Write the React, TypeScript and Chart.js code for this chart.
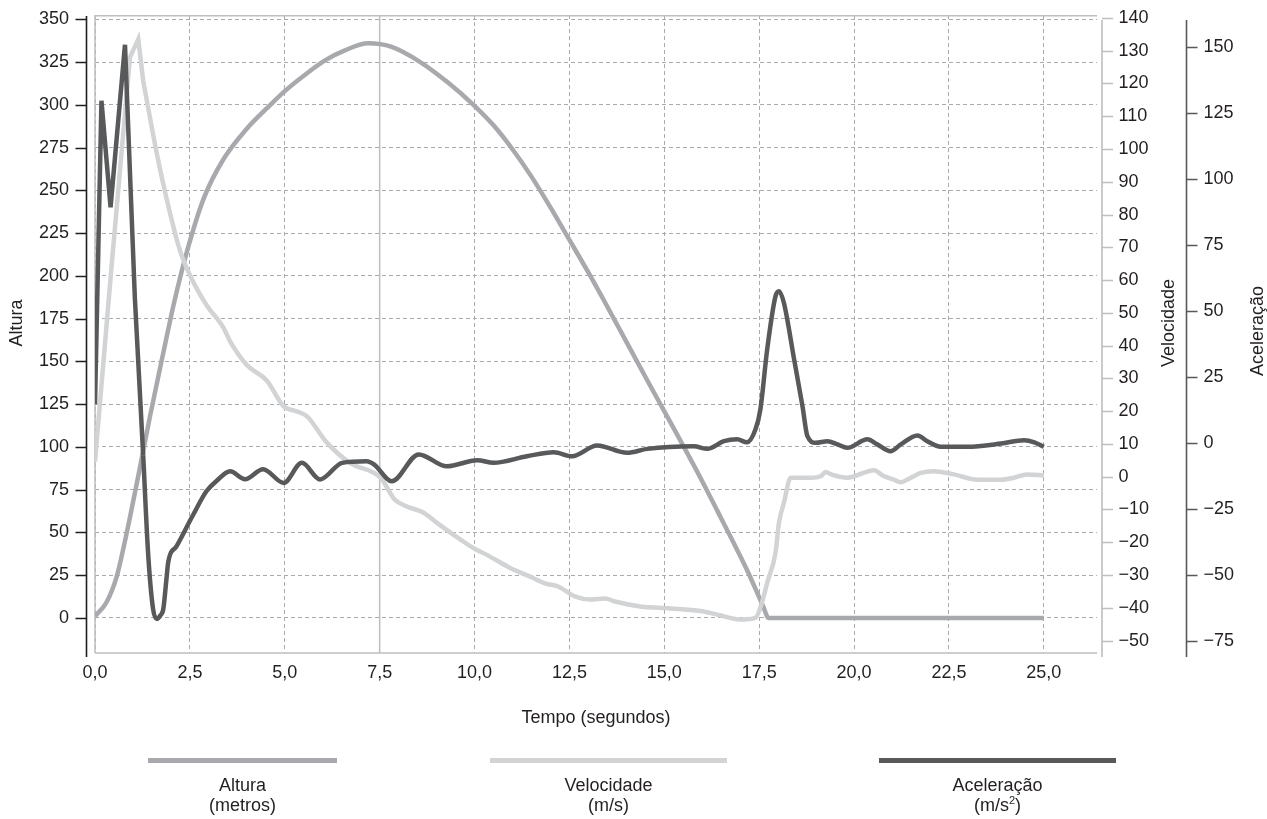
import React, { useEffect, useRef } from 'react';
import { Chart, registerables } from 'chart.js';

Chart.register(...registerables);

// ---------- tick labels ----------
const tempoTicks = [0, 2.5, 5, 7.5, 10, 12.5, 15, 17.5, 20, 22.5, 25];
const alturaTicks = [0, 25, 50, 75, 100, 125, 150, 175, 200, 225, 250, 275, 300, 325, 350];
const velocidadeTicks = [-50, -40, -30, -20, -10, 0, 10, 20, 30, 40, 50, 60, 70, 80, 90, 100, 110, 120, 130, 140];
const aceleracaoTicks = [-75, -50, -25, 0, 25, 50, 75, 100, 125, 150];
const marcasSolidas = [0, 7.5];

// ---------- series ----------
const alturaTempo = [0, 0.3, 0.57, 0.79, 1.14, 1.45, 1.8, 2.07, 2.42, 2.86, 3.38, 4.0, 4.53, 5.0, 5.5, 6.06, 6.6, 7.2, 7.8, 8.57, 9.3, 9.97, 10.5, 11.0, 11.5, 12.0, 12.5, 13.05, 13.4, 14.5, 15.95, 16.48, 17.2, 17.6, 17.75, 20, 22.5, 25];
const alturaValores = [1, 9, 24, 45, 83, 118, 155, 183, 214, 245, 268, 286, 298, 308, 317, 326, 332, 336, 334, 325, 313, 300, 288, 274, 258, 240, 221, 200, 186, 141, 82, 59, 27, 7, 0, 0, 0, 0];

const velTempoInicio = [0, 0.42, 0.92, 1.14, 1.27];
const velInicio = [4.6, 62, 128, 133.5, 120.8];
const velTempo = [1.27, 1.62, 1.89, 2.24, 2.59, 2.95, 3.38, 3.56, 4.0, 4.53, 4.97, 5.3, 5.58, 6.11, 6.72, 7.52, 7.9, 8.2, 8.66, 9.0, 9.63, 10.0, 10.3, 10.9, 11.5, 11.87, 12.2, 12.66, 13.05, 13.45, 13.7, 14.37, 15.16, 15.95, 16.4, 17.0, 17.4, 17.57, 17.71, 17.93, 18.02, 18.15, 18.33, 18.86, 19.12, 19.25, 19.4, 19.82, 20.53, 20.75, 21.05, 21.23, 21.4, 21.76, 22.1, 22.63, 23.25, 23.87, 24.21, 24.56, 25.0];
const velValores = [120.8, 99.1, 84.7, 69, 59.4, 52.2, 45.6, 41.3, 34.1, 29.3, 21.5, 20, 18.5, 10.4, 4.2, -0.3, -7, -9, -11, -14, -19.2, -22, -23.7, -27.6, -30.7, -32.6, -33.5, -36.6, -37.5, -37.2, -38.1, -39.6, -40.2, -41, -42.1, -43.6, -43.1, -38.5, -32.4, -23.2, -14.1, -8, -0.3, -0.3, 0.15, 1.4, 0.7, -0.3, 2.0, 0.4, -0.9, -1.7, -0.9, 1.2, 1.7, 0.7, -0.9, -0.9, -0.3, 0.7, 0.4];

const acelTempoInicio = [0, 0.17, 0.41, 0.79, 1.05, 1.27];
const acelInicio = [14.6, 129.7, 89.3, 150.9, 55, -4.8];
const acelTempo = [1.27, 1.40, 1.53, 1.63, 1.72, 1.80, 1.88, 1.93, 2.15, 2.59, 2.94, 3.2, 3.56, 3.95, 4.43, 4.97, 5.45, 5.93, 6.51, 7.16, 7.35, 7.82, 8.53, 9.27, 10.07, 10.5, 11.38, 12.09, 12.57, 13.23, 14.02, 14.55, 15.78, 16.13, 16.57, 16.92, 17.18, 17.4, 17.53, 17.71, 17.93, 18.02, 18.15, 18.42, 18.64, 18.77, 18.99, 19.3, 19.56, 19.82, 20.35, 20.61, 20.96, 21.23, 21.67, 21.93, 22.28, 22.98, 23.87, 24.48, 24.75, 25.0];
const acelValores = [-4.8, -42, -63, -66.8, -65.5, -63, -52, -45.2, -39.2, -27.2, -18.3, -14.5, -10.8, -13.8, -10, -15.2, -7.6, -13.9, -7.6, -7.0, -8.2, -14.6, -4.4, -8.9, -6.6, -7.6, -5.1, -3.6, -5.1, -1.0, -3.8, -2.3, -1.3, -2.3, 0.6, 1.3, 0.2, 5, 12.6, 35.4, 55.6, 57.5, 53.1, 31.6, 13.9, 2.5, 0, 0.6, -0.6, -1.9, 1.3, -0.6, -3.2, -0.6, 2.8, 0.6, -1.5, -1.5, -0.3, 1.0, 0.2, -1.5];

// ---------- styles ----------
const COR_ALTURA = '#a7a9ac';
const COR_VEL = '#d1d3d4';
const COR_ACEL = '#58595b';
const COR_TEXTO = '#231f20';
const COR_GRADE = '#a9abae';
const COR_MOLDURA = '#bcbec0';
const FONTE = "'Liberation Sans', Arial, Helvetica, sans-serif";
const TAM = 18;
const INVISIVEL = 'rgba(0,0,0,0)';

const pts = (xs: number[], ys: number[]) => xs.map((x, i) => ({ x, y: ys[i] }));
const fmtNeg = (v: number) => (v < 0 ? '\u2212' + Math.abs(v) : String(v));

const decorPlugin = {
  id: 'decor',
  beforeDatasetsDraw(chart: any) {
    const { ctx, chartArea: ca, scales } = chart;
    ctx.save();
    ctx.strokeStyle = COR_MOLDURA;
    ctx.lineWidth = 1.5;
    ctx.beginPath();
    ctx.moveTo(ca.left, ca.top + 0.75);
    ctx.lineTo(ca.right, ca.top + 0.75);
    ctx.moveTo(ca.left, ca.bottom);
    ctx.lineTo(ca.right, ca.bottom);
    for (const v of marcasSolidas) {
      const px = scales.x.getPixelForValue(v);
      ctx.moveTo(px, ca.top);
      ctx.lineTo(px, ca.bottom);
    }
    ctx.stroke();
    ctx.restore();
  },
  afterDraw(chart: any) {
    const { ctx, chartArea: ca, scales } = chart;
    ctx.save();
    const axis = (scale: any, ticks: number[], x: number, dir: number, color: string, top: number) => {
      ctx.strokeStyle = color;
      ctx.lineWidth = 1.6;
      ctx.beginPath();
      ctx.moveTo(x, top);
      ctx.lineTo(x, ca.bottom + 4);
      for (const v of ticks) {
        const y = Math.round(scale.getPixelForValue(v)) + 0.5;
        ctx.moveTo(x, y);
        ctx.lineTo(x + dir * 11, y);
      }
      ctx.stroke();
    };
    axis(scales.y, alturaTicks, ca.left - 8.5, -1, COR_TEXTO, ca.top + 1);
    axis(scales.yVel, velocidadeTicks, ca.right + 5, 1, COR_MOLDURA, ca.top + 5);
    axis(scales.yAcel, aceleracaoTicks, ca.right + 89.5, 1, COR_ACEL, ca.top + 5);

    ctx.fillStyle = COR_TEXTO;
    ctx.font = `${TAM}px ${FONTE}`;
    ctx.textAlign = 'center';
    ctx.textBaseline = 'middle';
    const vtitle = (text: string, x: number, y: number) => {
      ctx.save();
      ctx.translate(x, y);
      ctx.rotate(-Math.PI / 2);
      ctx.fillText(text, 0, 0);
      ctx.restore();
    };
    vtitle('Altura', 17, 323);
    vtitle('Velocidade', ca.right + 72, 323);
    vtitle('Aceleração', ca.right + 161, 331);
    ctx.fillText('Tempo (segundos)', (ca.left + ca.right) / 2, 718);
    ctx.restore();
  },
};

export default function App() {
  const ref = useRef<HTMLCanvasElement | null>(null);

  useEffect(() => {
    if (!ref.current) return;
    Chart.defaults.font.family = FONTE;
    Chart.defaults.font.size = TAM;
    Chart.defaults.color = COR_TEXTO;

    const linha = (data: any[], color: string, axis: string, smooth: boolean, order: number) => ({
      data,
      borderColor: color,
      backgroundColor: color,
      borderWidth: 4.5,
      pointRadius: 0,
      pointHoverRadius: 0,
      fill: false,
      yAxisID: axis,
      tension: 0,
      cubicInterpolationMode: smooth ? 'monotone' : 'default',
      order,
    });

    const chart = new Chart(ref.current, {
      type: 'line',
      data: {
        datasets: [
          linha(pts(acelTempoInicio, acelInicio), COR_ACEL, 'yAcel', false, 1),
          linha(pts(acelTempo, acelValores), COR_ACEL, 'yAcel', true, 1),
          linha(pts(velTempoInicio, velInicio), COR_VEL, 'yVel', false, 2),
          linha(pts(velTempo, velValores), COR_VEL, 'yVel', true, 2),
          linha(pts(alturaTempo, alturaValores), COR_ALTURA, 'y', true, 3),
        ] as any,
      },
      options: {
        responsive: false,
        animation: false,
        devicePixelRatio: 1,
        layout: { padding: { top: 15, left: 0, right: 0, bottom: 0 } },
        plugins: { legend: { display: false }, tooltip: { enabled: false } },
        scales: {
          x: {
            type: 'linear',
            position: 'bottom',
            min: 0,
            max: 26.4,
            afterBuildTicks: (s: any) => { s.ticks = tempoTicks.map((value) => ({ value })); },
            afterFit: (s: any) => { s.height = 166; },
            grid: { display: true, drawTicks: false, color: COR_GRADE, lineWidth: 1 },
            border: { display: false, dash: [4, 3] },
            ticks: {
              padding: 9,
              maxRotation: 0,
              autoSkip: false,
              callback: (v: any) => Number(v).toFixed(1).replace('.', ','),
            },
          },
          y: {
            type: 'linear',
            position: 'left',
            min: -20.5,
            max: 352.5,
            afterBuildTicks: (s: any) => { s.ticks = alturaTicks.map((value) => ({ value })); },
            afterFit: (s: any) => { s.width = 95; },
            grid: { display: true, drawTicks: true, tickLength: 26, tickColor: INVISIVEL, color: COR_GRADE, lineWidth: 1 },
            border: { display: false, dash: [4, 3] },
            ticks: { padding: 0, autoSkip: false, callback: (v: any) => String(v) },
          },
          yVel: {
            type: 'linear',
            position: 'right',
            min: -53.8,
            max: 140.9,
            afterBuildTicks: (s: any) => { s.ticks = velocidadeTicks.map((value) => ({ value })); },
            afterFit: (s: any) => { s.width = 83; },
            grid: { display: false, drawOnChartArea: false, drawTicks: true, tickLength: 21.5, tickColor: INVISIVEL },
            border: { display: false },
            ticks: { padding: 0, autoSkip: false, callback: (v: any) => fmtNeg(Number(v)) },
          },
          yAcel: {
            type: 'linear',
            position: 'right',
            min: -79.7,
            max: 162.2,
            afterBuildTicks: (s: any) => { s.ticks = aceleracaoTicks.map((value) => ({ value })); },
            afterFit: (s: any) => { s.width = 87; },
            grid: { display: false, drawOnChartArea: false, drawTicks: true, tickLength: 23.5, tickColor: INVISIVEL },
            border: { display: false },
            ticks: { padding: 0, autoSkip: false, callback: (v: any) => fmtNeg(Number(v)) },
          },
        },
      } as any,
      plugins: [decorPlugin],
    });
    return () => chart.destroy();
  }, []);

  const legenda = [
    { nome: 'Altura', unidade: <>(metros)</>, cor: COR_ALTURA, left: 148, width: 189 },
    { nome: 'Velocidade', unidade: <>(m/s)</>, cor: COR_VEL, left: 490, width: 237 },
    {
      nome: 'Aceleração',
      unidade: <>(m/s<sup style={{ fontSize: 11, verticalAlign: 'super', lineHeight: 0 }}>2</sup>)</>,
      cor: COR_ACEL,
      left: 879,
      width: 237,
    },
  ];

  return (
    <div style={{ position: 'fixed', left: 0, top: 0, width: 1267, height: 819, background: '#ffffff', fontFamily: FONTE }}>
      <canvas ref={ref} width={1267} height={819} style={{ position: 'absolute', left: 0, top: 0 }} />
      {legenda.map((l) => (
        <React.Fragment key={l.nome}>
          <div style={{ position: 'absolute', left: l.left, top: 758, width: l.width, height: 5, background: l.cor }} />
          <div
            style={{
              position: 'absolute',
              left: l.left + l.width / 2 - 100,
              top: 775,
              width: 200,
              textAlign: 'center',
              fontSize: TAM,
              lineHeight: '20px',
              color: COR_TEXTO,
            }}
          >
            <div>{l.nome}</div>
            <div>{l.unidade}</div>
          </div>
        </React.Fragment>
      ))}
    </div>
  );
}
